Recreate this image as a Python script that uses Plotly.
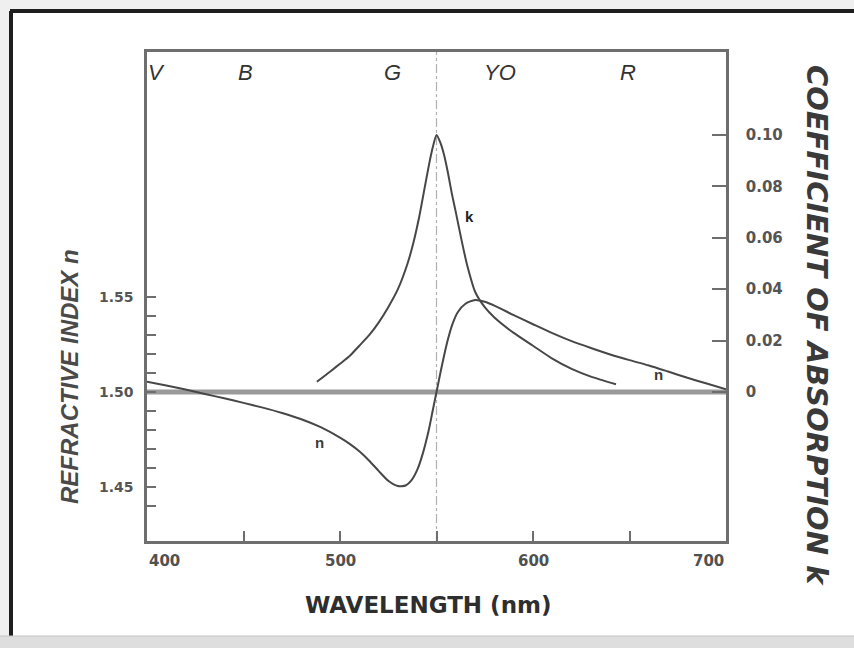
import plotly.graph_objects as go

# ---------------- data ----------------
wavelength_n = [400, 410, 420, 430, 440, 450, 460, 470, 480, 490,
                500, 505, 510, 515, 520, 525, 530, 534, 537, 540,
                543, 546, 548, 550, 552, 554, 556, 558, 561, 565,
                570, 575, 580, 590, 600, 610, 620, 630, 640, 650,
                660, 670, 680, 690, 700]
n_values = [1.5055, 1.5035, 1.5013, 1.4990, 1.4967, 1.4943, 1.4918, 1.4890, 1.4857, 1.4815,
            1.4760, 1.4727, 1.4688, 1.4640, 1.4585, 1.4533, 1.4505, 1.4508, 1.4535, 1.4590,
            1.4680, 1.4800, 1.4900, 1.5000, 1.5100, 1.5195, 1.5280, 1.5350, 1.5420, 1.5465,
            1.5485, 1.5475, 1.5455, 1.5405, 1.5357, 1.5310, 1.5268, 1.5232, 1.5198, 1.5168,
            1.5140, 1.5108, 1.5075, 1.5045, 1.5015]

wavelength_k = [488, 495, 500, 505, 510, 515, 520, 525, 530, 535, 538, 541, 544, 546, 548,
                550, 552, 554, 556, 558, 560, 563, 566, 570, 575, 580, 590, 600, 610, 620, 630, 643]
k_values = [0.0004, 0.0008, 0.0011, 0.0014, 0.0018, 0.0022, 0.0027, 0.0033, 0.0040, 0.0050, 0.0058,
            0.0068, 0.0080, 0.0088, 0.0095,
            0.0100, 0.0097, 0.0092, 0.0085, 0.0077, 0.0070, 0.0059, 0.0049, 0.0039, 0.0033, 0.0029,
            0.0023, 0.0018, 0.0013, 0.0009, 0.0006, 0.0003]

x_ticks = [400, 450, 500, 550, 600, 650, 700]
x_tick_labels = ["400", "", "500", "", "600", "", "700"]
n_ticks = [1.44, 1.45, 1.46, 1.47, 1.48, 1.49, 1.50, 1.51, 1.52, 1.53, 1.54, 1.55]
n_tick_labels = ["", "1.45", "", "", "", "", "1.50", "", "", "", "", "1.55"]
k_ticks = [0, 0.002, 0.004, 0.006, 0.008, 0.010]
k_tick_labels = ["0", "0.02", "0.04", "0.06", "0.08", "0.10"]

band_letters = ["V", "B", "G", "YO", "R"]
band_positions = [405, 451, 527, 583, 649]

center_wavelength = 550
baseline_n = 1.50

# ---------------- layout geometry (pixels) ----------------
W, H = 854, 648
L, R, T, B = 147, 726, 52, 541


def px(xp):
    return (xp - L) / (R - L)


def py(yp):
    return (B - yp) / (B - T)


ink = "#474747"
axis_col = "#6e6e6e"
font_main = "Liberation Sans, Arial, sans-serif"
font_bold = "DejaVu Sans, sans-serif"

fig = go.Figure()

# baseline n = 1.50 / k = 0
fig.add_trace(go.Scatter(x=[x_ticks[0], x_ticks[-1]], y=[baseline_n, baseline_n],
                         mode="lines", line=dict(color="#9a9a9a", width=5),
                         hoverinfo="skip", showlegend=False))
# n curve
fig.add_trace(go.Scatter(x=wavelength_n, y=n_values, mode="lines",
                         line=dict(color=ink, width=2, shape="spline", smoothing=0.6),
                         name="n", showlegend=False))
# k curve
fig.add_trace(go.Scatter(x=wavelength_k, y=k_values, mode="lines", yaxis="y2",
                         line=dict(color=ink, width=2, shape="spline", smoothing=0.6),
                         name="k", showlegend=False))

shapes = []
shapes.append(dict(type="rect", xref="paper", yref="paper",
                   x0=px(10), x1=px(W + 5), y0=py(636), y1=py(11),
                   fillcolor="white", line=dict(width=0), layer="below"))
shapes.append(dict(type="line", xref="paper", yref="paper",
                   x0=px(10), x1=px(W + 5), y0=py(11), y1=py(11),
                   line=dict(color="#1e1e1e", width=4)))
shapes.append(dict(type="line", xref="paper", yref="paper",
                   x0=px(11), x1=px(11), y0=py(11), y1=py(636),
                   line=dict(color="#1e1e1e", width=4)))
shapes.append(dict(type="rect", xref="paper", yref="paper",
                   x0=px(-5), x1=px(W + 5), y0=py(H + 5), y1=py(636),
                   fillcolor="#dedede", line=dict(color="#c4c4c4", width=1)))
shapes.append(dict(type="line", xref="x", yref="paper",
                   x0=center_wavelength, x1=center_wavelength, y0=0, y1=1,
                   line=dict(color="#b0b0b0", width=1.2, dash="dashdot"), layer="below"))

annotations = []
for letter, pos in zip(band_letters, band_positions):
    annotations.append(dict(x=pos, y=py(73), xref="x", yref="paper", text=letter,
                            showarrow=False, xanchor="center", yanchor="middle",
                            font=dict(family=font_main, size=22, color="#333333", style="italic")))
anchors = {"400": "left", "500": "center", "600": "center", "700": "right"}
for v, t in zip(x_ticks, x_tick_labels):
    if t:
        annotations.append(dict(x=v, y=py(561), xref="x", yref="paper", text="<b>" + t + "</b>",
                                showarrow=False, xanchor=anchors[t], yanchor="middle",
                                font=dict(family=font_bold, size=15, color="#505050")))
annotations.append(dict(x=px(428), y=py(605), xref="paper", yref="paper",
                        xanchor="center", yanchor="middle",
                        text="<b>WAVELENGTH (nm)</b>", showarrow=False,
                        font=dict(family=font_bold, size=23, color="#2e2e2e")))
annotations.append(dict(x=px(69), y=py(377), xref="paper", yref="paper",
                        xanchor="center", yanchor="middle",
                        text="<b>REFRACTIVE INDEX n</b>", showarrow=False, textangle=-90,
                        font=dict(family=font_main, size=24, color="#4a4a4a", style="italic")))
annotations.append(dict(x=px(817), y=py(325), xref="paper", yref="paper",
                        xanchor="center", yanchor="middle",
                        text="<b>COEFFICIENT OF ABSORPTION k</b>", showarrow=False, textangle=90,
                        font=dict(family=font_bold, size=29, color="#3a3a3a", style="italic")))
annotations.append(dict(x=489.6, y=1.4732, xref="x", yref="y", text="<b>n</b>", showarrow=False,
                        font=dict(family=font_main, size=15, color="#3a3a3a")))
annotations.append(dict(x=567, y=1.5926, xref="x", yref="y", text="<b>k</b>", showarrow=False,
                        font=dict(family=font_main, size=15, color="#222222")))
annotations.append(dict(x=664.8, y=1.5095, xref="x", yref="y", text="<b>n</b>", showarrow=False,
                        font=dict(family=font_main, size=15, color="#3a3a3a")))

n_range = [1.4216, 1.6790]
k_range = [-0.005797, 0.013229]

fig.update_layout(
    width=W, height=H,
    margin=dict(l=L, r=W - R, t=T, b=H - B, pad=0),
    paper_bgcolor="#efefef", plot_bgcolor="white",
    showlegend=False,
    xaxis=dict(range=[400, 700], tickvals=x_ticks, ticktext=[""] * len(x_ticks),
               ticks="inside", ticklen=10, tickwidth=2, tickcolor=axis_col,
               showline=True, linecolor=axis_col, linewidth=2.5, mirror=True,
               showgrid=False, zeroline=False),
    yaxis=dict(range=n_range, tickvals=n_ticks, ticktext=n_tick_labels,
               ticks="inside", ticklen=9, tickwidth=2, tickcolor=axis_col,
               showline=True, linecolor=axis_col, linewidth=2.5,
               showgrid=False, zeroline=False, ticklabelstandoff=8,
               tickfont=dict(family=font_bold, size=14, color="#555555", weight="bold")),
    yaxis2=dict(range=k_range, tickvals=k_ticks, ticktext=k_tick_labels,
                overlaying="y", side="right",
                ticks="inside", ticklen=14, tickwidth=2, tickcolor=axis_col,
                showline=True, linecolor=axis_col, linewidth=2.5,
                showgrid=False, zeroline=False, ticklabelstandoff=14,
                tickfont=dict(family=font_bold, size=15, color="#555555", weight="bold")),
    shapes=shapes,
    annotations=annotations,
)

fig.write_html("out.html")
